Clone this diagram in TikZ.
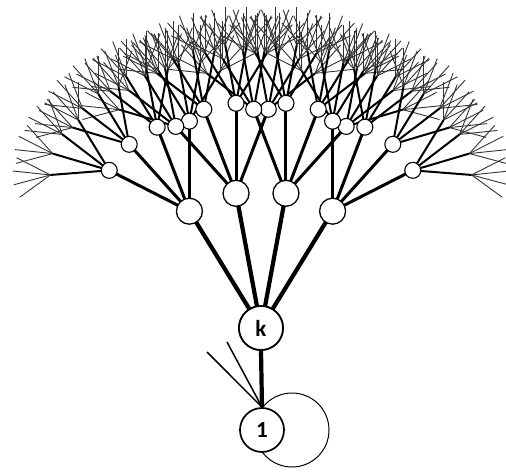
\documentclass[tikz,border=0pt]{standalone}
\usepackage{fontspec}
\setmainfont{Carlito}
\begin{document}
\begin{tikzpicture}[x=1pt,y=-1pt,
  big/.style={circle,draw,line width=1.7pt,fill=white,minimum size=44pt,inner sep=0pt,font=\bfseries\fontsize{23}{23}\selectfont},
  lvone/.style={circle,draw,line width=1.3pt,fill=white,minimum size=26pt,inner sep=0pt},
  lvtwo/.style={circle,draw,line width=1.1pt,fill=white,minimum size=16pt,inner sep=0pt},
  e1/.style={line width=4.2pt},
  e2/.style={line width=3pt},
  e3/.style={line width=2pt},
  e4/.style={line width=0.9pt,black!80},
  thin/.style={line width=1.5pt},
  loop/.style={line width=1pt}]
\useasboundingbox (0,0) rectangle (506,473);
\coordinate (kc) at (261,328);
\coordinate (oc) at (262,430);
\def\offs{31.5,10.5,-10.5,-31.5}
% geometry
\foreach[count=\i] \oa in \offs {
  \pgfmathsetmacro\aa{90+\oa}
  \path (kc) ++(\aa:137pt) coordinate (n\i);
  \foreach[count=\j] \ob in \offs {
    \pgfmathsetmacro\ab{\aa+\ob}
    \path (n\i) ++(\ab:90pt) coordinate (n\i\j);
    \foreach[count=\m] \oc in \offs {
      \pgfmathsetmacro\ac{\ab+\oc}
      \path (n\i\j) ++(\ac:59pt) coordinate (n\i\j\m);
      \foreach[count=\q] \od in \offs {
        \pgfmathsetmacro\ad{\ac+\od}
        \path (n\i\j\m) ++(\ad:38pt) coordinate (n\i\j\m\q);
      }
    }
  }
}
% self loop and extra edges at node 1
\draw[loop] (292,430) circle (37);
\node[big] (one) at (oc) {1};
\node[big] (k) at (kc) {k};
\coordinate (t1) at (207,352);
\coordinate (t2) at (227,342);
\draw[thin] (one.north) -- (t1);
\draw[thin] (one.north) -- (t2);
\draw[e1] (one.north) -- (k.south);
% edges, finest first
\foreach \i in {1,...,4} \foreach \j in {1,...,4} \foreach \m in {1,...,4} \foreach \q in {1,...,4}
  \draw[e4] (n\i\j\m) -- (n\i\j\m\q);
\foreach \i in {1,...,4} \foreach \j in {1,...,4} \foreach \m in {1,...,4}
  \draw[e3] (n\i\j) -- (n\i\j\m);
\foreach \i in {1,...,4} \foreach \j in {1,...,4}
  \draw[e2] (n\i) -- (n\i\j);
\foreach \i in {1,...,4}
  \draw[e1] (k.center) -- (n\i);
% circles on top
\foreach \i in {1,...,4} \foreach \j in {1,...,4}
  \node[lvtwo] (c\i\j) at (n\i\j) {};
\foreach \i in {1,...,4}
  \node[lvone] (c\i) at (n\i) {};
\node[big] (k) at (kc) {k};
\end{tikzpicture}
\end{document}
